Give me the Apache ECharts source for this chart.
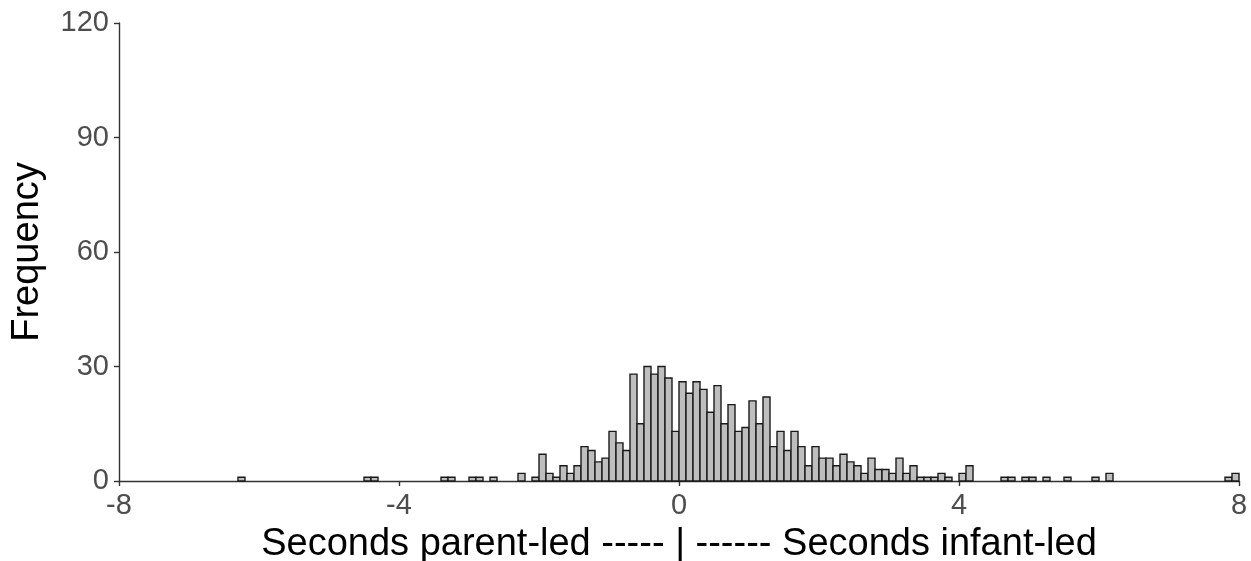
<!DOCTYPE html>
<html>
<head>
<meta charset="utf-8">
<script src="https://cdn.jsdelivr.net/npm/echarts@6/dist/echarts.min.js"></script>
<style>
  html, body { margin: 0; padding: 0; background: #ffffff; }
  #chart { width: 1251px; height: 561px; }
</style>
</head>
<body>
<div id="chart"></div>
<script>
// Histogram of lead/lag times (seconds), 0.1 s bins; only non-empty bins listed.
const binWidth = 0.1;
const binLeft = [
  -6.3, -4.5, -4.4, -3.4, -3.3, -3.0, -2.9, -2.7, -2.3, -2.1,
  -2.0, -1.9, -1.8, -1.7, -1.6, -1.5, -1.4, -1.3, -1.2, -1.1,
  -1.0, -0.9, -0.8, -0.7, -0.6, -0.5, -0.4, -0.3, -0.2, -0.1,
  0.0, 0.1, 0.2, 0.3, 0.4, 0.5, 0.6, 0.7, 0.8, 0.9,
  1.0, 1.1, 1.2, 1.3, 1.4, 1.5, 1.6, 1.7, 1.8, 1.9,
  2.0, 2.1, 2.2, 2.3, 2.4, 2.5, 2.6, 2.7, 2.8, 2.9,
  3.0, 3.1, 3.2, 3.3, 3.4, 3.5, 3.6, 3.7, 3.8, 4.0,
  4.1, 4.6, 4.7, 4.9, 5.0, 5.2, 5.5, 5.9, 6.1, 7.8,
  7.9
];
const counts = [
  1, 1, 1, 1, 1, 1, 1, 1, 2, 1,
  7, 2, 1, 4, 2, 4, 9, 8, 5, 6,
  13, 10, 8, 28, 15, 30, 28, 30, 27, 13,
  26, 23, 26, 24, 18, 25, 15, 20, 13, 14,
  21, 15, 22, 9, 13, 8, 13, 9, 4, 9,
  6, 6, 4, 7, 5, 4, 2, 6, 3, 3,
  2, 6, 2, 4, 1, 1, 1, 2, 1, 2,
  4, 1, 1, 1, 1, 1, 1, 1, 2, 1,
  2
];
const xTicks = { min: -8, max: 8, step: 4 };
const yTicks = { min: 0, max: 120, step: 30 };
const xTitle = 'Seconds parent-led ----- | ------ Seconds infant-led';
const yTitle = 'Frequency';

const font = '"Liberation Sans", Arial, sans-serif';
const axisColor = '#333333';
const labelColor = '#4d4d4d';

const chart = echarts.init(document.getElementById('chart'), null, { renderer: 'canvas' });

chart.setOption({
  animation: false,
  backgroundColor: '#ffffff',
  grid: { left: 119, right: 12, top: 23, bottom: 80, outerBoundsMode: 'none' },
  xAxis: {
    type: 'value',
    min: xTicks.min, max: xTicks.max, interval: xTicks.step,
    name: xTitle,
    nameLocation: 'middle',
    nameGap: 45,
    nameTextStyle: { color: '#000000', fontSize: 38, fontFamily: font },
    axisLine: { show: true, onZero: false, lineStyle: { color: axisColor, width: 1.4 } },
    axisTick: { show: true, length: 5, lineStyle: { color: axisColor, width: 1.4 } },
    axisLabel: { color: labelColor, fontSize: 29, fontFamily: font, margin: 10 },
    splitLine: { show: false }
  },
  yAxis: {
    type: 'value',
    min: yTicks.min, max: yTicks.max, interval: yTicks.step,
    name: yTitle,
    nameLocation: 'middle',
    nameRotate: 90,
    nameGap: 72,
    nameTextStyle: { color: '#000000', fontSize: 38, fontFamily: font },
    axisLine: { show: true, onZero: false, lineStyle: { color: axisColor, width: 1.4 } },
    axisTick: { show: true, length: 5, lineStyle: { color: axisColor, width: 1.4 } },
    axisLabel: { color: labelColor, fontSize: 29, fontFamily: font, margin: 10 },
    splitLine: { show: false }
  },
  series: [{
    type: 'custom',
    data: binLeft.map((x, i) => [x, counts[i]]),
    encode: { x: 0, y: 1 },
    renderItem: function (params, api) {
      const left = api.value(0);
      const count = api.value(1);
      const topLeft = api.coord([left, count]);
      const bottomRight = api.coord([left + binWidth, 0]);
      return {
        type: 'rect',
        shape: {
          x: topLeft[0],
          y: topLeft[1],
          width: bottomRight[0] - topLeft[0],
          height: bottomRight[1] - topLeft[1]
        },
        style: { fill: '#bebebe', stroke: '#1a1a1a', lineWidth: 1.4 }
      };
    }
  }]
});
</script>
</body>
</html>
